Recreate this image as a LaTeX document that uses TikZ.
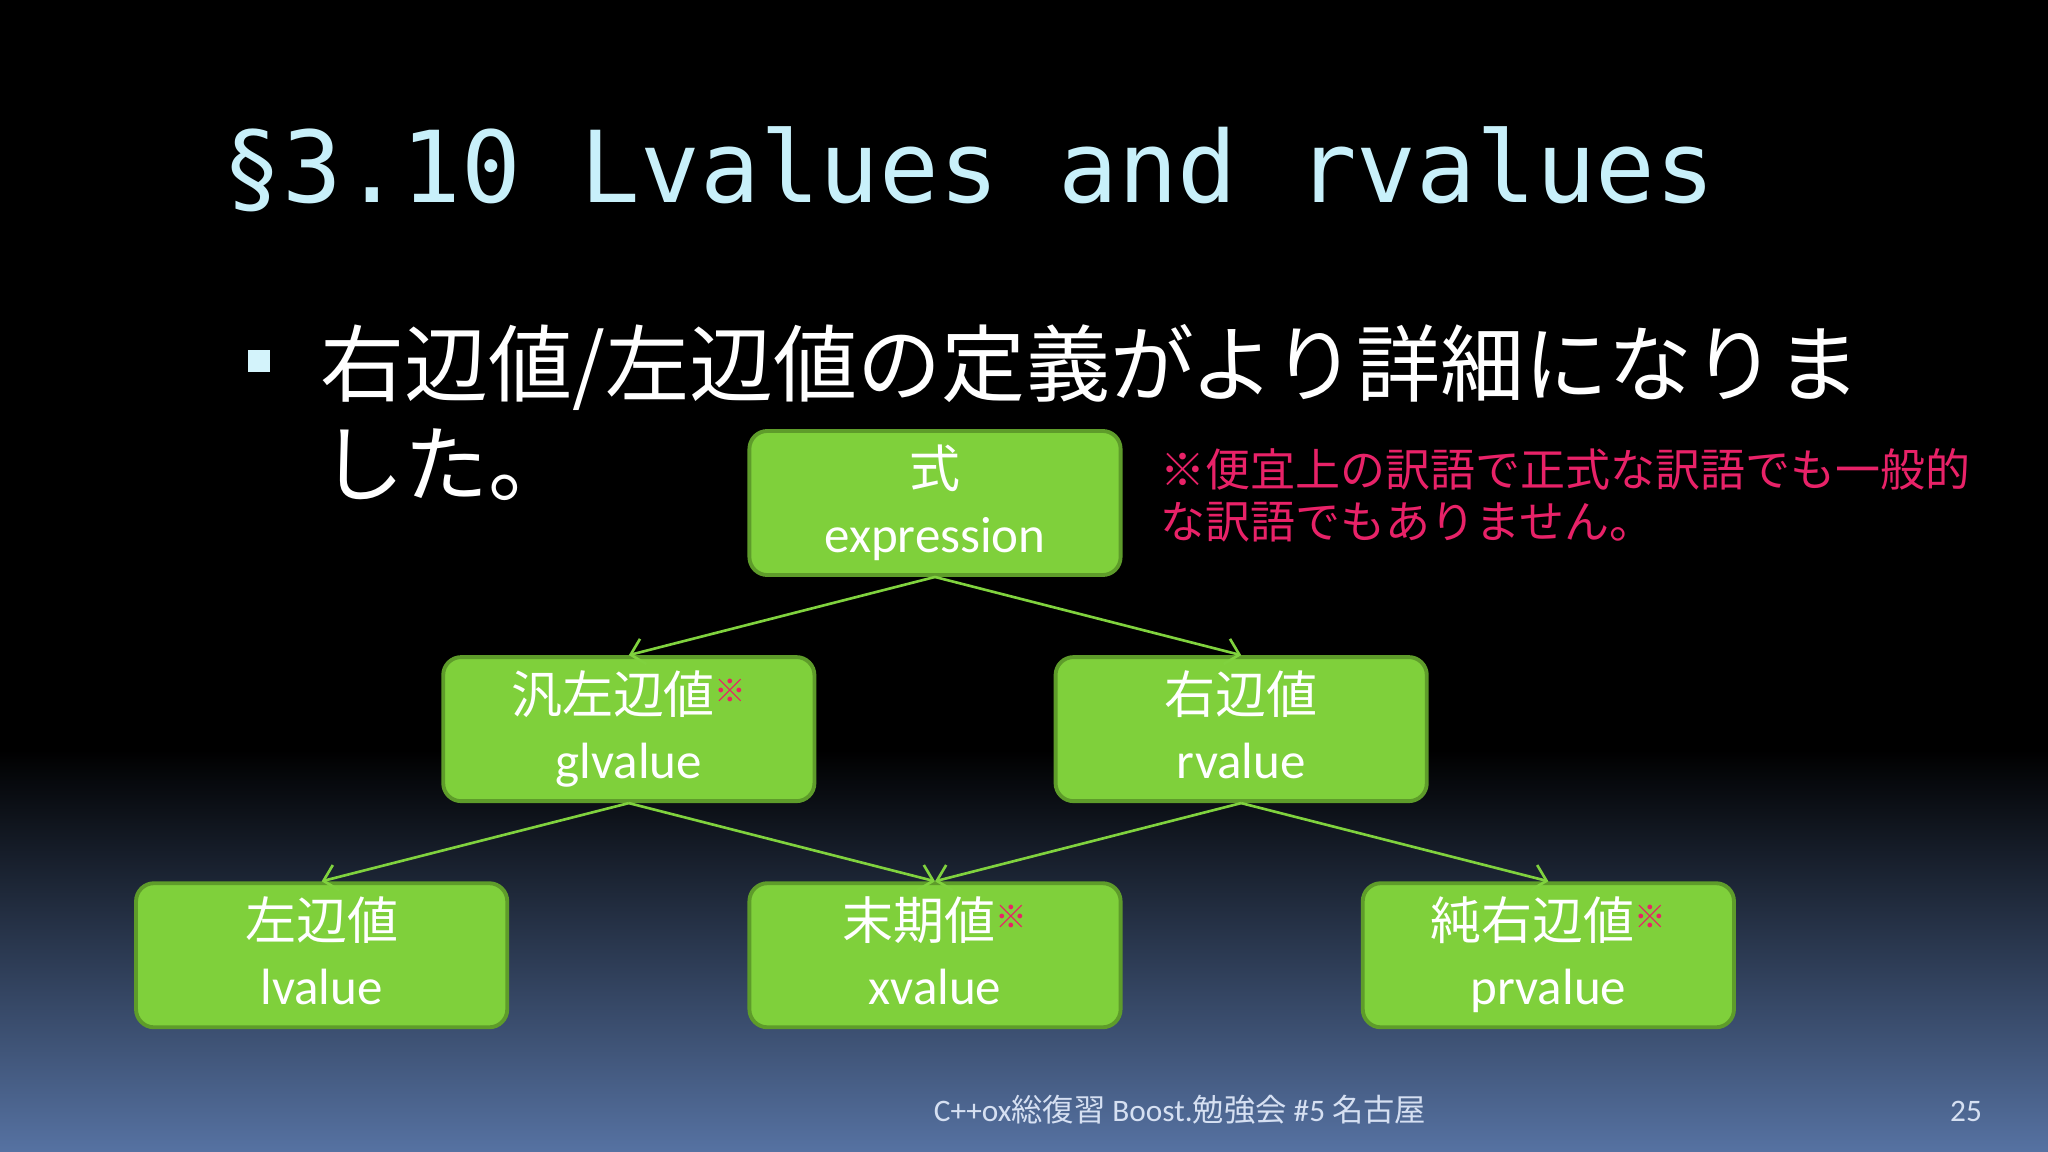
\documentclass[tikz,border=0pt]{standalone}
\usepackage{fontspec}
\usepackage{xcolor}
\usepackage{tikz}
\usetikzlibrary{arrows.meta}
\usetikzlibrary{positioning}

\setmainfont{Carlito}
\newfontfamily\cjk{Noto Sans CJK JP}
\newfontfamily\titlefont{DejaVu Sans Mono}

\definecolor{boxfill}{RGB}{127,208,59}
\definecolor{boxedge}{RGB}{94,156,42}
\definecolor{linkgreen}{RGB}{128,210,62}
\definecolor{titlecyan}{RGB}{200,240,250}
\definecolor{notered}{RGB}{232,34,104}
\definecolor{bgblue}{RGB}{86,114,162}
\definecolor{footgray}{RGB}{214,224,242}

\newcommand{\kome}{\textcolor{notered}{\raisebox{0.45ex}{\cjk\fontsize{9}{9}\selectfont ※}}}

\begin{document}
\begin{tikzpicture}[x=0.01cm,y=-0.01cm,node distance=3cm,
    cat node/.style={rectangle,draw=boxedge,line width=1.1pt,fill=boxfill,rounded corners=0.18cm,
        text=white,align=center,minimum width=3.71cm,minimum height=1.44cm,
        execute at end node=\vphantom{g},
        font=\fontsize{14.5}{18.5}\selectfont}]

    \useasboundingbox (0,0) rectangle (2048,1152);
    \fill[black] (0,0) rectangle (2048,1152);
    \shade[top color=black,bottom color=bgblue] (0,750) rectangle (2048,1152);

    % title and bullet
    \node[anchor=base west,inner sep=0,text=titlecyan,font=\titlefont\fontsize{28.2}{30}\selectfont] (title) at (222,203) {§3.10 Lvalues and rvalues};
    \fill[titlecyan!80!white] (248,350) rectangle (270,372);
    \node[anchor=base west,inner sep=0,text=white,align=left,font=\cjk\fontsize{23.9}{28.7}\selectfont] (bullet) at (320,496) {右辺値/左辺値の定義がより詳細になりま\\した。};
    \node[anchor=base west,inner sep=0,text=notered,align=left,font=\cjk\fontsize{12.8}{14.8}\selectfont] (note) at (1160,539) {※便宜上の訳語で正式な訳語でも一般的\\な訳語でもありません。};

    % tree
    \node[cat node] (expression) at (935,503) {{\cjk 式}\\expression};
    \node[cat node,on grid,below left=2.26cm and 3.06cm of expression] (glvalue) {{\cjk 汎左辺値}\kome\\glvalue};
    \node[cat node,on grid,below right=2.26cm and 3.06cm of expression] (rvalue) {{\cjk 右辺値}\\rvalue};
    \node[cat node,on grid,below left=2.26cm and 3.07cm of glvalue] (lvalue) {{\cjk 左辺値}\\lvalue};
    \node[cat node,on grid,below right=2.26cm and 3.06cm of glvalue] (xvalue) {{\cjk 末期値}\kome\\xvalue};
    \node[cat node,on grid,below right=2.26cm and 3.07cm of rvalue] (prvalue) {{\cjk 純右辺値}\kome\\prvalue};

    \path[->,>={Straight Barb[length=0.13cm,width=0.26cm]},color=linkgreen,line width=0.75pt]
        (expression.south) edge (glvalue.north)
        (expression.south) edge (rvalue.north)
        (glvalue.south) edge (lvalue.north)
        (glvalue.south) edge (xvalue.north)
        (rvalue.south) edge (xvalue.north)
        (rvalue.south) edge (prvalue.north);

    % footer
    \node[anchor=base,inner sep=0,text=footgray,font=\fontsize{8.9}{10}\selectfont] (footer) at (1180,1121) {C++ox{\cjk 総復習} Boost.{\cjk 勉強会} \#5 {\cjk 名古屋}};
    \node[anchor=base,inner sep=0,text=footgray,font=\fontsize{8.9}{10}\selectfont] (page) at (1966,1121) {25};

\end{tikzpicture}
\end{document}
